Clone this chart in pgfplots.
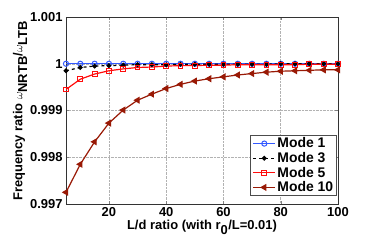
\documentclass[border=0pt]{standalone}
\usepackage{fontspec}
\setmainfont{Liberation Sans}
\usepackage{pgfplots}
\pgfplotsset{compat=1.18}
\definecolor{mblue}{rgb}{0.2,0.35,1}
\definecolor{mred}{rgb}{1,0.05,0.05}
\definecolor{mbrown}{rgb}{0.6,0.1,0.02}
\begin{document}
\begin{tikzpicture}
\begin{axis}[
  scale only axis, width=272bp, height=187bp,
  xmin=5, xmax=100, ymin=0.997, ymax=1.001,
  xtick={20,40,60,80,100},
  ytick={0.997,0.998,0.999,1,1.001},
  yticklabels={0.997,0.998,0.999,1,1.001},
  /pgf/number format/assume math mode=true,
  tick label style={font=\fontsize{13}{15}\selectfont\bfseries},
  label style={font=\fontsize{13}{15}\selectfont\bfseries},
  xlabel={L/d ratio (with r$_{\textbf{0}}$/L=0.01)},
  ylabel={Frequency ratio $\omega_{\textbf{NRTB}}$/$\omega_{\textbf{LTB}}$},
  xlabel style={yshift=3bp},
  ylabel style={yshift=-4bp},
  tick align=inside, tick pos=both, major tick length=3bp,
  grid=major, grid style={densely dotted, gray!60, line width=0.5pt},
  axis line style={line width=0.6pt, black!80},
  legend style={at={(1,0)}, anchor=south east, xshift=-1bp, yshift=8bp,
    font=\fontsize{14}{16}\selectfont\bfseries, draw=black!70, line width=0.6pt,
    inner xsep=2bp, inner ysep=1bp, row sep=0bp,
    nodes={inner sep=1.5bp}},
  legend cell align=left,
  legend image code/.code={\draw[#1] (0cm,0cm) -- (22bp,0cm); \draw[#1,solid] plot coordinates {(11bp,0cm)};},
]
\addplot[mblue, line width=1.2pt, mark=o, mark size=2.6bp, mark options={solid, line width=1pt}] coordinates {
(5,1)(10,1)(15,1)(20,1)(25,1)(30,1)(35,1)(40,1)(45,1)(50,1)(55,1)(60,1)(65,1)(70,1)(75,1)(80,1)(85,1)(90,1)(95,1)(100,1)};
\addlegendentry{Mode 1}
\addplot[black, line width=1.2pt, dashed, mark=*, mark size=1.8bp, mark options={solid}] coordinates {
(5,0.99985)(10,0.99992)(15,0.99995)(20,0.99996)(25,0.99997)(30,0.99998)(35,0.99998)(40,0.99998)(45,0.99999)(50,0.99999)(55,0.99999)(60,0.99999)(65,0.99999)(70,0.99999)(75,0.99999)(80,1)(85,1)(90,1)(95,1)(100,1)};
\addlegendentry{Mode 3}
\addplot[mred, line width=1.2pt, mark=square, mark size=2.4bp, mark options={solid, line width=1pt}] coordinates {
(5,0.99945)(10,0.99967)(15,0.99978)(20,0.99985)(25,0.99989)(30,0.99992)(35,0.99993)(40,0.99995)(45,0.99996)(50,0.99996)(55,0.99997)(60,0.99997)(65,0.99998)(70,0.99998)(75,0.99998)(80,0.99998)(85,0.99998)(90,0.99999)(95,0.99999)(100,0.99999)};
\addlegendentry{Mode 5}
\addplot[mbrown, line width=1.2pt, mark=triangle*, mark size=3bp, mark options={solid, rotate=90}] coordinates {
(5,0.99725)(10,0.99785)(15,0.99833)(20,0.99873)(25,0.99901)(30,0.99922)(35,0.99935)(40,0.99947)(45,0.99956)(50,0.99963)(55,0.99968)(60,0.99972)(65,0.99976)(70,0.99979)(75,0.99982)(80,0.99984)(85,0.99985)(90,0.99986)(95,0.99987)(100,0.99987)};
\addlegendentry{Mode 10}
\end{axis}
\path[use as bounding box] (-66bp,-41bp) rectangle (308bp,204bp);
\end{tikzpicture}
\end{document}
